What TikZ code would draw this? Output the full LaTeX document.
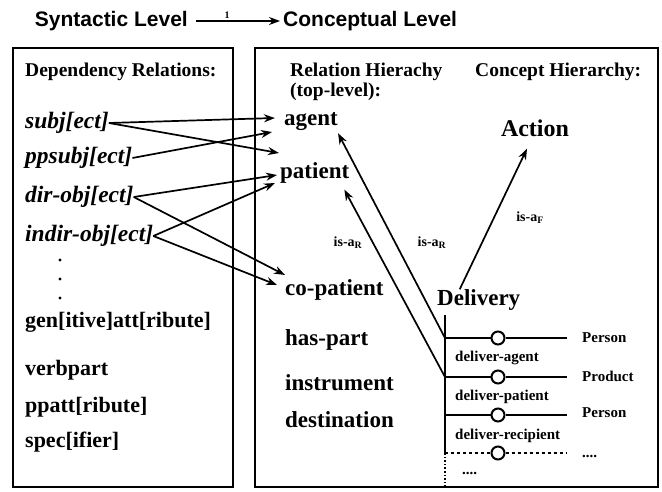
\documentclass[tikz,border=0pt]{standalone}
\usepackage{fontspec}
\setmainfont{Liberation Serif}
\newfontfamily\headfont{Liberation Sans}
\usetikzlibrary{arrows.meta,calc}

\begin{document}
\begin{tikzpicture}[x=1pt, y=-1pt,
    level/.style={font=\headfont\bfseries\fontsize{21}{24}\selectfont, inner sep=0pt},
    head/.style={anchor=west, inner sep=0pt, font=\bfseries\fontsize{19.5}{22}\selectfont},
    dep/.style={anchor=west, inner sep=0pt, font=\bfseries\fontsize{22}{24}\selectfont},
    depit/.style={dep, font=\bfseries\itshape\fontsize{23.5}{25}\selectfont},
    rel/.style={anchor=west, inner sep=0pt, font=\bfseries\fontsize{23}{25}\selectfont},
    slotname/.style={anchor=west, inner sep=0pt, font=\bfseries\fontsize{15}{17}\selectfont},
    filler/.style={anchor=west, inner sep=0pt, font=\bfseries\fontsize{15}{17}\selectfont},
    isa/.style={inner sep=0pt, font=\bfseries\fontsize{14}{16}\selectfont},
    frame/.style={line width=1.6pt},
    arrow/.style={-{Stealth[length=11pt, width=8pt]}, line width=1.7pt},
    knob/.style={circle, draw, fill=white, line width=2pt, minimum size=13pt, inner sep=0pt}
]
    \useasboundingbox (0,0) rectangle (662,492);

    % Ebenen
    \node[level, anchor=east] (syn) at (188,21) {Syntactic Level};
    \node[level, anchor=west] (con) at (283,21) {Conceptual Level};
    \draw[arrow, line width=2pt] ($(syn.east)+(8,0)$) -- ($(con.west)+(-3,0)$);
    \node[inner sep=0pt, font=\bfseries\fontsize{10}{10}\selectfont] (tick) at (227,15) {1};

    % Rahmen
    \draw[frame] (13,48) rectangle (233,487);
    \draw[frame] (255,48) rectangle (658,487);

    % Abhaengigkeitsrelationen
    \node[head] (deptitle) at (25,72) {Dependency Relations:};
    \node[depit] (subj) at (25,123) {subj[ect]};
    \node[depit] (ppsubj) at (25,158) {ppsubj[ect]};
    \node[depit] (dirobj) at (25,197) {dir-obj[ect]};
    \node[depit] (indirobj) at (25,236) {indir-obj[ect]};
    \foreach \y in {260,279,298}
        \fill (60,\y) circle (1.6);
    \node[dep] (genatt) at (25,322) {gen[itive]att[ribute]};
    \node[dep] (verbpart) at (25,370) {verbpart};
    \node[dep] (ppatt) at (25,407) {ppatt[ribute]};
    \node[dep] (spec) at (25,442) {spec[ifier]};

    % Relationshierarchie
    \node[head] (relhead) at (290,72) {Relation Hierachy};
    \node[head] (toplevel) at (290,92) {(top-level):};
    \node[head] (conhead) at (475,72) {Concept Hierarchy:};
    \node[rel] (agent) at (284,122) {agent};
    \node[rel] (patient) at (280,173) {patient};
    \node[rel] (copatient) at (285,290) {co-patient};
    \node[rel] (haspart) at (285,340) {has-part};
    \node[rel] (instrument) at (285,383) {instrument};
    \node[rel] (destination) at (285,420) {destination};

    % Abbildung
    \draw[arrow] (subj.east) -- ($(agent.west)+(-9,-4)$);
    \draw[arrow] (subj.east) -- ($(agent.west)+(-5,31)$);
    \draw[arrow] (ppsubj.east) -- ($(agent.west)+(-12,10)$);
    \draw[arrow] (dirobj.east) -- ($(patient.west)+(-3,2)$);
    \draw[arrow] (dirobj.east) -- ($(copatient.west)+(0,-15)$);
    \draw[arrow] (indirobj.east) -- ($(patient.west)+(-5,10)$);
    \draw[arrow] (indirobj.east) -- ($(copatient.west)+(-8,-5)$);

    % Konzepthierarchie
    \node[rel, anchor=center, font=\bfseries\fontsize{24}{26}\selectfont] (action) at (535,128) {Action};
    \node[rel] (delivery) at (437,300) {Delivery};
    \coordinate (top) at (445,315);
    \coordinate (j1) at (445,338);
    \coordinate (j2) at (445,377);
    \coordinate (j3) at (445,415);
    \coordinate (j4) at (445,453);
    \coordinate (bottom) at (445,487);
    \draw[line width=1.4pt] (top) -- (j4);
    \draw[line width=1.6pt, dotted] (j4) -- (bottom);

    \node[knob] (k1) at (498,338) {};
    \node[knob] (k2) at (498,377) {};
    \node[knob] (k3) at (498,415) {};
    \node[knob] (k4) at (498,453) {};
    \draw[line width=1.2pt] (j1) -- (k1) -- (567,338);
    \draw[line width=1.2pt] (j2) -- (k2) -- (567,377);
    \draw[line width=1.2pt] (j3) -- (k3) -- (567,415);
    \draw[line width=1.2pt, dashed] (j4) -- (k4) -- (567,453);

    \node[filler] (person1) at (582,338) {Person};
    \node[filler] (product) at (582,376) {Product};
    \node[filler] (person2) at (582,413) {Person};
    \node[filler] (morefill) at (582,456) {....};
    \node[slotname] (dagent) at (455,358) {deliver-agent};
    \node[slotname] (dpatient) at (455,397) {deliver-patient};
    \node[slotname] (drecipient) at (455,436) {deliver-recipient};
    \node[slotname] (moreslot) at (462,473) {....};

    % is-a
    \draw[arrow] (j1) -- ($(agent.south east)+(0,2)$);
    \draw[arrow] (j2) -- ($(patient.south east)+(-5,6)$);
    \draw[arrow] ($(delivery.north)+(-19,0)$) -- ($(action.south)+(-8,12)$);
    \node[isa] (isa1) at (348,243) {is-a$_{\mathbf{R}}$};
    \node[isa] (isa2) at (432,243) {is-a$_{\mathbf{R}}$};
    \node[isa] (isa3) at (530,218) {is-a$_{\mathbf{F}}$};
\end{tikzpicture}
\end{document}
